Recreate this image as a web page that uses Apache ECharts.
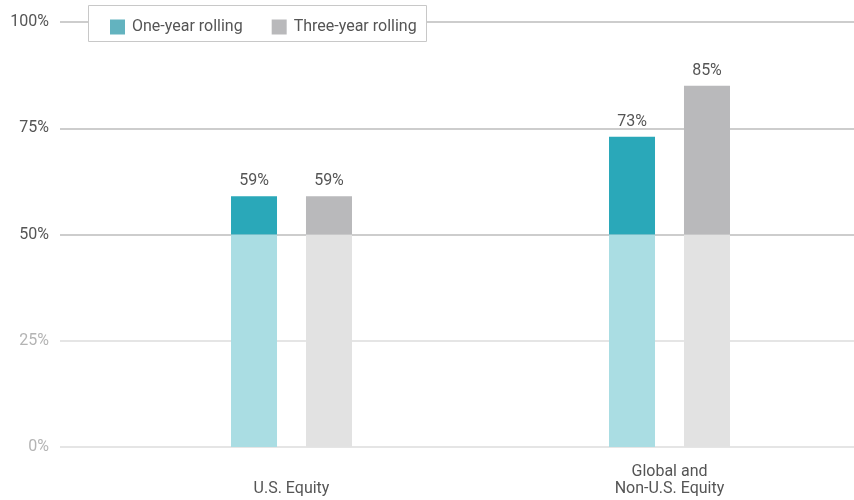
<!DOCTYPE html>
<html>
<head>
<meta charset="utf-8">
<script src="https://cdn.jsdelivr.net/npm/echarts@6/dist/echarts.min.js"></script>
<style>html,body{margin:0;padding:0;background:#fff;}#c{width:854px;height:500px;}</style>
</head>
<body>
<div id="c"></div>
<script>
var categories = ['U.S. Equity', 'Global and\nNon-U.S. Equity'];
var oneYear = [59, 73];
var threeYear = [59, 85];
var threshold = 50;
var yTicks = [0, 25, 50, 75, 100];

var FONT = 'Roboto';
var FS = 16;
var TXT = '#555555';

function basePart(arr) { return arr.map(function (v) { return Math.min(v, threshold); }); }
function topPart(arr) { return arr.map(function (v) { return Math.max(v - threshold, 0); }); }

var chart = echarts.init(document.getElementById('c'), null, { renderer: 'canvas' });

var option = {
  animation: false,
  textStyle: { fontFamily: FONT },
  graphic: [{
    type: 'rect', left: 88, top: 5, z: 1,
    shape: { width: 338, height: 36 },
    style: { fill: '#ffffff', stroke: '#c8c8c8', lineWidth: 1 }
  }],
  legend: {
    left: 105, top: 14, z: 10,
    itemWidth: 15, itemHeight: 15, itemGap: 29,
    icon: 'rect',
    textStyle: { fontFamily: FONT, fontSize: FS, color: TXT, padding: [0, 0, 0, 2] },
    data: [
      { name: 'One-year rolling', itemStyle: { color: '#63b3bf' } },
      { name: 'Three-year rolling', itemStyle: { color: '#b9b9bb' } }
    ]
  },
  grid: [
    { left: 60, right: 0, top: 22, bottom: 53, outerBoundsMode: 'none' },
    { left: 102.5, width: 756, top: 22, bottom: 53, outerBoundsMode: 'none' }
  ],
  xAxis: [
    { gridIndex: 0, type: 'category', data: categories, show: false },
    {
      gridIndex: 1, type: 'category', data: categories,
      axisLine: { show: false }, axisTick: { show: false },
      axisLabel: {
        fontFamily: FONT, fontSize: FS, color: TXT, lineHeight: 17,
        margin: 50, verticalAlign: 'bottom', align: 'center'
      }
    }
  ],
  yAxis: [
    {
      gridIndex: 0, type: 'value', min: 0, max: 100, interval: 25,
      axisLine: { show: false }, axisTick: { show: false },
      splitLine: { show: true, lineStyle: { color: ['#dcdcdc', '#dcdcdc', '#bdbdbd', '#bdbdbd', '#bdbdbd'], width: 1.5 } },
      axisLabel: {
        margin: 11,
        formatter: function (v) { return (v < 50 ? '{l|' : '{d|') + v + '%}'; },
        rich: {
          l: { fontFamily: FONT, fontSize: FS, color: '#b4b4b4' },
          d: { fontFamily: FONT, fontSize: FS, color: TXT }
        }
      }
    },
    { gridIndex: 1, type: 'value', min: 0, max: 100, interval: 25, show: false, splitLine: { show: false } }
  ],
  series: [
    {
      name: 'One-year base', type: 'bar', xAxisIndex: 1, yAxisIndex: 1, stack: 'one',
      barWidth: 46, barGap: '63%', data: basePart(oneYear), clip: false,
      itemStyle: { color: '#aadde3' }, z: 3
    },
    {
      name: 'One-year rolling', type: 'bar', xAxisIndex: 1, yAxisIndex: 1, stack: 'one',
      barWidth: 46, barGap: '63%', data: topPart(oneYear), clip: false,
      itemStyle: { color: '#2aa8b9' }, z: 3,
      label: {
        show: true, position: 'top', distance: 7,
        fontFamily: FONT, fontSize: FS, color: TXT,
        formatter: function (p) { return oneYear[p.dataIndex] + '%'; }
      }
    },
    {
      name: 'Three-year base', type: 'bar', xAxisIndex: 1, yAxisIndex: 1, stack: 'three',
      barWidth: 46, barGap: '63%', data: basePart(threeYear), clip: false,
      itemStyle: { color: '#e2e2e2' }, z: 3
    },
    {
      name: 'Three-year rolling', type: 'bar', xAxisIndex: 1, yAxisIndex: 1, stack: 'three',
      barWidth: 46, barGap: '63%', data: topPart(threeYear), clip: false,
      itemStyle: { color: '#b9b9bb' }, z: 3,
      label: {
        show: true, position: 'top', distance: 7,
        fontFamily: FONT, fontSize: FS, color: TXT,
        formatter: function (p) { return threeYear[p.dataIndex] + '%'; }
      }
    }
  ]
};
chart.setOption(option);
</script>
</body>
</html>
